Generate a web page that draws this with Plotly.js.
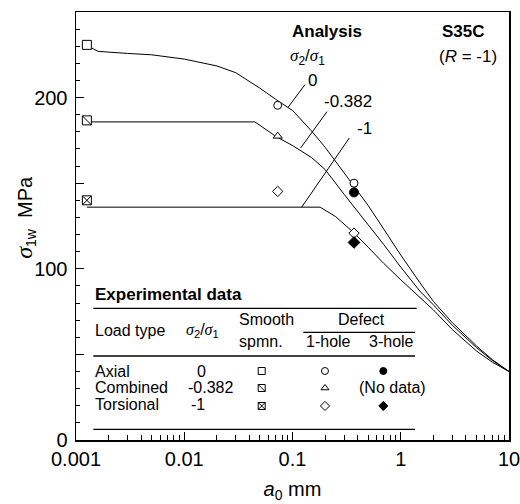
<!DOCTYPE html>
<html>
<head>
<meta charset="utf-8">
<script src="https://cdn.plot.ly/plotly-3.0.1.min.js"></script>
<style>html,body{margin:0;padding:0;background:#fff;}</style>
</head>
<body>
<div id="chart" style="width:520px;height:504px;"></div>
<script>
// ---- Analysis curves (sigma_1w vs a0) ----
const curve0X = [0.00126, 0.0016, 0.003, 0.005, 0.01, 0.02, 0.03, 0.05, 0.07, 0.1, 0.15, 0.2, 0.3, 0.4, 0.5, 0.7, 1, 1.5, 2, 3, 5, 7, 10];
const curve0Y = [230.5, 227, 225.8, 225, 222.5, 218.5, 214.5, 205.5, 199, 192.5, 180.5, 171, 156, 145.5, 137, 123, 108, 92, 81, 68.5, 55, 47, 40];
const curveCX = [0.00126, 0.045, 0.07, 0.1, 0.15, 0.2, 0.3, 0.5, 0.7, 1, 1.5, 2, 3, 5, 7, 10];
const curveCY = [185.8, 185.8, 177.4, 172, 165, 158, 143.5, 126, 114, 101, 87, 79, 67, 54, 46.5, 40];
const curveTX = [0.00126, 0.18, 0.25, 0.3, 0.37, 0.5, 0.7, 1, 1.5, 2, 3, 5, 7, 10];
const curveTY = [136, 136, 130.5, 126, 121, 112.6, 103, 93.6, 83, 76, 64.5, 52, 45.5, 40];

// ---- Experimental data ----
const smoothX = [0.00126, 0.00126, 0.00126];
const smoothY = [230.8, 186.7, 140];       // axial, combined, torsional
const hole1X = [0.073, 0.073, 0.073, 0.37, 0.37];
const hole1Y = [195.5, 177.5, 145.2, 150, 120.8];
const hole1Sym = ['circle', 'triangle-up', 'diamond', 'circle', 'diamond'];
const hole3X = [0.37, 0.37];
const hole3Y = [144.6, 115.4];
const hole3Sym = ['circle', 'diamond'];

// ---- Curve labels and their leader lines (head on curve, tail near label) ----
const ratioLabels = ['0', '-0.382', '-1'];
const leaderHeadX = [0.0908, 0.119, 0.1216];
const leaderHeadY = [194.2, 170.6, 136];
const leaderTailX = [0.1305, 0.2083, 0.3347];
const leaderTailY = [207.6, 191.8, 176.4];

// ---- Table / ticks ----
const loadTypes = ['Axial', 'Combined', 'Torsional'];
const ratioValues = ['0', '-0.382', '-1'];
const xTickVals = [0.001, 0.01, 0.1, 1, 10];
const xTickText = ['0.001', '0.01', '0.1', '1', '10'];
const yTickVals = [0, 100, 200];
const yTickText = ['0', '100', '200'];
const yMidTicks = [50, 150, 250];

const xMinor = [];
[0.001, 0.01, 0.1, 1].forEach(d => { for (let k = 2; k <= 9; k++) xMinor.push(d * k); });

const SIG = '<span style="font-family:\'Liberation Serif\',serif"><i>σ</i></span>';
const RATIO = SIG + '<sub>2</sub>/' + SIG + '<sub>1</sub>';

const lineStyle = {color: 'black', width: 1};
const traces = [
  {x: curve0X, y: curve0Y, mode: 'lines', line: lineStyle},
  {x: curveCX, y: curveCY, mode: 'lines', line: lineStyle},
  {x: curveTX, y: curveTY, mode: 'lines', line: lineStyle}
];
leaderHeadX.forEach((hx, i) => {
  traces.push({x: [hx, leaderTailX[i]], y: [leaderHeadY[i], leaderTailY[i]], mode: 'lines', line: lineStyle});
});
traces.push(
  {x: smoothX, y: smoothY, mode: 'markers',
   marker: {symbol: ['square', 'square', 'square-x'], size: 9, color: 'white', line: {color: 'black', width: 1}}},
  {x: smoothX.slice(1, 2), y: smoothY.slice(1, 2), mode: 'markers',
   marker: {symbol: 'line-nw', size: 9, line: {color: 'black', width: 1}}},
  {x: hole1X, y: hole1Y, mode: 'markers',
   marker: {symbol: hole1Sym, size: 8, color: 'white', line: {color: 'black', width: 1}}},
  {x: hole3X, y: hole3Y, mode: 'markers',
   marker: {symbol: hole3Sym, size: 9, color: 'black', line: {color: 'black', width: 1}}}
);

// table symbols on an overlay axis (0..1 = plot area)
const tabColX = {smooth: 0.4289, h1: 0.575, h3: 0.7097};
const tabRowY = [0.1612, 0.1215, 0.0795];
traces.push({x: [tabColX.smooth, tabColX.smooth, tabColX.smooth], y: tabRowY, xaxis: 'x2', yaxis: 'y2', mode: 'markers',
  marker: {symbol: ['square', 'square', 'square-x'], size: 7, color: 'white', line: {color: 'black', width: 1}}});
traces.push({x: [tabColX.smooth], y: [tabRowY[1]], xaxis: 'x2', yaxis: 'y2', mode: 'markers',
  marker: {symbol: 'line-nw', size: 7, line: {color: 'black', width: 1}}});
traces.push({x: [tabColX.h1, tabColX.h1, tabColX.h1], y: tabRowY, xaxis: 'x2', yaxis: 'y2', mode: 'markers',
  marker: {symbol: ['circle', 'triangle-up', 'diamond'], size: 7, color: 'white', line: {color: 'black', width: 1}}});
traces.push({x: [tabColX.h3, tabColX.h3], y: [tabRowY[0], tabRowY[2]], xaxis: 'x2', yaxis: 'y2', mode: 'markers',
  marker: {symbol: ['circle', 'diamond'], size: 7, color: 'black', line: {color: 'black', width: 1}}});
// extra mid ticks (50, 150, 250) on an overlay y axis
traces.push({x: [], y: [], yaxis: 'y3', mode: 'markers'});
traces.forEach(t => { t.hoverinfo = 'skip'; });

const annotations = [];
function txt(text, x, y, opts) {
  annotations.push(Object.assign({text: text, x: x, y: y, xref: 'paper', yref: 'paper', showarrow: false,
    xanchor: 'center', yanchor: 'middle', font: {size: 17, color: 'black'}}, opts || {}));
}
// y-axis title
txt('<span style="font-size:24px">' + SIG + '</span><sub>1w</sub>  MPa', -0.117, 0.52, {textangle: -90, font: {size: 20, color: 'black'}});
txt('<b>Analysis</b>', 0.579, 0.954);
txt(RATIO, 0.4896, 0.8956, {xanchor: 'left'});
txt('<b>S35C</b>', 0.8406, 0.954, {xanchor: 'left'});
txt('(<i>R</i> = -1)', 0.833, 0.8956, {xanchor: 'left'});
const labPos = [[0.5473, 0.8388], [0.6289, 0.7904], [0.6656, 0.7271]];
ratioLabels.forEach((t, i) => txt(t, labPos[i][0], labPos[i][1]));
// table text
const small = {font: {size: 16, color: 'black'}};
txt('<b>Experimental data</b>', 0.04, 0.3388, {xanchor: 'left'});
txt('Load type', 0.04, 0.257, Object.assign({xanchor: 'left'}, small));
txt(RATIO, 0.2921, 0.257, small);
txt('Smooth', 0.3711, 0.2827, Object.assign({xanchor: 'left'}, small));
txt('spmn.', 0.3711, 0.2313, Object.assign({xanchor: 'left'}, small));
txt('Defect', 0.6598, 0.2827, small);
txt('1-hole', 0.5827, 0.229, small);
txt('3-hole', 0.7275, 0.229, small);
const textRowY = [0.1612, 0.1215, 0.0818];
loadTypes.forEach((t, i) => txt(t, 0.04, textRowY[i], Object.assign({xanchor: 'left'}, small)));
const ratioCol = [0.2903, 0.3095, 0.2818];
ratioValues.forEach((t, i) => txt(t, ratioCol[i], textRowY[i], small));
txt('(No data)', 0.731, textRowY[1], small);

function hline(x0, x1, y) {
  return {type: 'line', xref: 'paper', yref: 'paper', x0: x0, x1: x1, y0: y, y1: y, line: {color: 'black', width: 1.3}};
}
const shapes = [
  hline(0.04, 0.7868, 0.3077),
  hline(0.525, 0.7829, 0.2516),
  hline(0.04, 0.7829, 0.1963),
  hline(0.04, 0.7829, 0.025)
];

const tickCommon = {ticks: 'inside', tickwidth: 1, tickcolor: 'black', showgrid: false, zeroline: false};
const layout = {
  width: 520, height: 504,
  margin: {l: 76, r: 11, t: 12, b: 64},
  paper_bgcolor: 'white', plot_bgcolor: 'white',
  font: {family: 'Liberation Sans, Arial, sans-serif', size: 17, color: 'black'},
  showlegend: false,
  xaxis: Object.assign({
    type: 'log', range: [-3, 1], tickmode: 'array', tickvals: xTickVals, ticktext: xTickText, ticklen: 8,
    showline: true, linewidth: 1.5, linecolor: 'black', mirror: true,
    tickfont: {size: 20}, ticklabeloverflow: 'allow',
    minor: {tickmode: 'array', tickvals: xMinor, ticks: 'inside', ticklen: 5, tickwidth: 1, tickcolor: 'black', showgrid: false},
    title: {text: '<i>a</i><sub>0</sub> mm', font: {size: 20}, standoff: 13}
  }, tickCommon),
  yaxis: Object.assign({
    range: [0, 250], tickmode: 'array', tickvals: yTickVals, ticktext: yTickText, ticklen: 8,
    showline: true, linewidth: 1.5, linecolor: 'black', mirror: true,
    tickfont: {size: 20}, ticklabelstandoff: 3, ticklabeloverflow: 'allow',
    minor: {tickmode: 'linear', tick0: 0, dtick: 10, ticks: 'inside', ticklen: 4, tickwidth: 1, tickcolor: 'black', showgrid: false}
  }, tickCommon),
  yaxis3: Object.assign({
    overlaying: 'y', range: [0, 250], tickmode: 'array', tickvals: yMidTicks, ticklen: 8,
    showticklabels: false, showline: false, fixedrange: true
  }, tickCommon),
  xaxis2: {overlaying: 'x', range: [0, 1], visible: false, fixedrange: true},
  yaxis2: {overlaying: 'y', range: [0, 1], visible: false, fixedrange: true},
  annotations: annotations,
  shapes: shapes
};

Plotly.newPlot('chart', traces, layout, {displayModeBar: false, staticPlot: true});
</script>
</body>
</html>
